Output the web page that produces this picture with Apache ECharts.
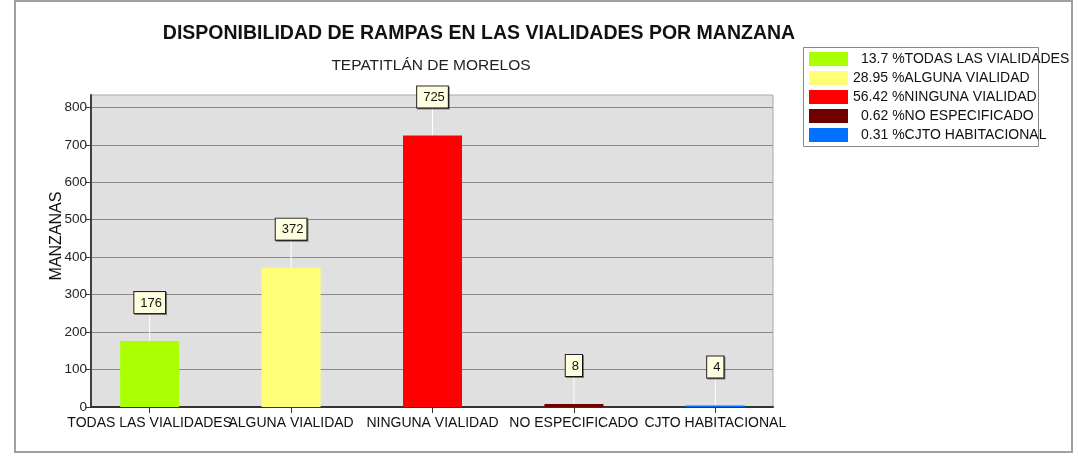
<!DOCTYPE html>
<html>
<head>
<meta charset="utf-8">
<script src="https://cdn.jsdelivr.net/npm/echarts@6/dist/echarts.min.js"></script>
<style>
html, body { margin: 0; padding: 0; background: #fff; }
#chart { width: 1078px; height: 458px; }
</style>
</head>
<body>
<div id="chart"></div>
<script>
var categorias = ['TODAS LAS VIALIDADES', 'ALGUNA VIALIDAD', 'NINGUNA VIALIDAD', 'NO ESPECIFICADO', 'CJTO HABITACIONAL'];
var manzanas = [176, 372, 725, 8, 4];
var porcentajes = ['13.7', '28.95', '56.42', '0.62', '0.31'];
var colores = ['#aaff00', '#ffff77', '#ff0000', '#700000', '#0070ff'];
var marcasY = [0, 100, 200, 300, 400, 500, 600, 700, 800];

var fuente = 'Liberation Sans';

// una serie por categoria para que la leyenda muestre cada una
var series = [];
for (var i = 0; i < categorias.length; i++) {
    var valores = [];
    for (var j = 0; j < categorias.length; j++) {
        valores.push(j === i ? manzanas[i] : '-');
    }
    series.push({
        name: categorias[i],
        type: 'bar',
        stack: 'total',
        xAxisIndex: 1,
        yAxisIndex: 1,
        barWidth: 59,
        data: valores,
        itemStyle: { color: colores[i] },
        label: {
            show: true,
            position: 'top',
            distance: 0,
            fontFamily: fuente,
            fontSize: 13,
            lineHeight: 14,
            color: '#111',
            backgroundColor: '#ffffe0',
            borderColor: '#222',
            borderWidth: 1,
            padding: [4, 3, 3, 6],
            shadowColor: 'rgba(0,0,0,0.45)',
            shadowOffsetX: 1,
            shadowOffsetY: 1,
            shadowBlur: 0
        },
        labelLayout: { dy: -28 },
        labelLine: { show: true, lineStyle: { color: '#ffffff', width: 1 } }
    });
}

var chart = echarts.init(document.getElementById('chart'));

var option = {
    animation: false,
    title: [
        {
            text: 'DISPONIBILIDAD DE RAMPAS EN LAS VIALIDADES POR MANZANA',
            left: 479, top: 24, padding: 0, textAlign: 'center',
            textStyle: { fontFamily: fuente, fontSize: 19.5, fontWeight: 'bold', color: '#111' }
        },
        {
            text: 'TEPATITLÁN DE MORELOS',
            left: 431, top: 58, padding: 0, textAlign: 'center',
            textStyle: { fontFamily: fuente, fontSize: 15.5, fontWeight: 'normal', color: '#222' }
        }
    ],
    legend: {
        data: categorias,
        orient: 'vertical',
        left: 803,
        top: 47,
        padding: [5, 4, 4, 6],
        borderWidth: 0,
        icon: 'rect',
        itemWidth: 39,
        itemHeight: 14,
        itemGap: 5,
        selectedMode: false,
        formatter: function (name) {
            var k = categorias.indexOf(name);
            // los porcentajes cortos se corren un digito para alinearlos a la derecha
            var estilo = porcentajes[k].length < 5 ? 'c' : 'l';
            return '{' + estilo + '|' + porcentajes[k] + ' %}' + name;
        },
        textStyle: {
            fontFamily: fuente, fontSize: 14, color: '#111', lineHeight: 14,
            rich: {
                l: { fontFamily: fuente, fontSize: 14, color: '#111' },
                c: { fontFamily: fuente, fontSize: 14, color: '#111', padding: [0, 0, 0, 8] }
            }
        }
    },
    grid: [
        { left: 91, right: 305, top: 95, bottom: 51, show: true, backgroundColor: '#e0e0e0', borderColor: '#a8a8a8', borderWidth: 1 },
        { left: 79, right: 292, top: 95, bottom: 51 }
    ],
    xAxis: [
        {
            type: 'value', gridIndex: 0, min: 0, max: 1,
            axisLine: { show: true, lineStyle: { color: '#333', width: 2 } },
            axisTick: { show: false }, axisLabel: { show: false }, splitLine: { show: false }
        },
        {
            type: 'category', gridIndex: 1, data: categorias,
            axisLine: { show: false },
            axisTick: { show: true, alignWithLabel: true, length: 6, lineStyle: { color: '#333' } },
            axisLabel: { interval: 0, margin: 9, fontFamily: fuente, fontSize: 14, color: '#111' },
            splitLine: { show: false }
        }
    ],
    yAxis: [
        {
            type: 'value', gridIndex: 0, min: 0, max: 833, interval: 100,
            axisLine: { show: true, lineStyle: { color: '#404040', width: 2 } },
            axisTick: { show: true, length: 5, customValues: marcasY, lineStyle: { color: '#333' } },
            axisLabel: {
                margin: 4, fontFamily: fuente, fontSize: 13.5, color: '#222',
                customValues: marcasY
            },
            splitLine: { show: true, lineStyle: { color: '#888', width: 1 } }
        },
        { type: 'value', gridIndex: 1, min: 0, max: 833, show: false }
    ],
    graphic: [
        {
            type: 'rect', silent: true, z: -1,
            shape: { x: 15, y: 1, width: 1057, height: 451 },
            style: { fill: 'none', stroke: '#a0a0a0', lineWidth: 2 }
        },
        {
            // marco de la leyenda
            type: 'rect', silent: true,
            shape: { x: 803.5, y: 47.5, width: 235, height: 99 },
            style: { fill: 'none', stroke: '#888', lineWidth: 1 }
        },
        {
            type: 'text', x: 57, y: 236, rotation: Math.PI / 2,
            style: {
                text: 'MANZANAS', fontFamily: fuente, fontSize: 16, fill: '#111',
                align: 'center', verticalAlign: 'middle'
            }
        }
    ],
    series: series
};

chart.setOption(option);
</script>
</body>
</html>
